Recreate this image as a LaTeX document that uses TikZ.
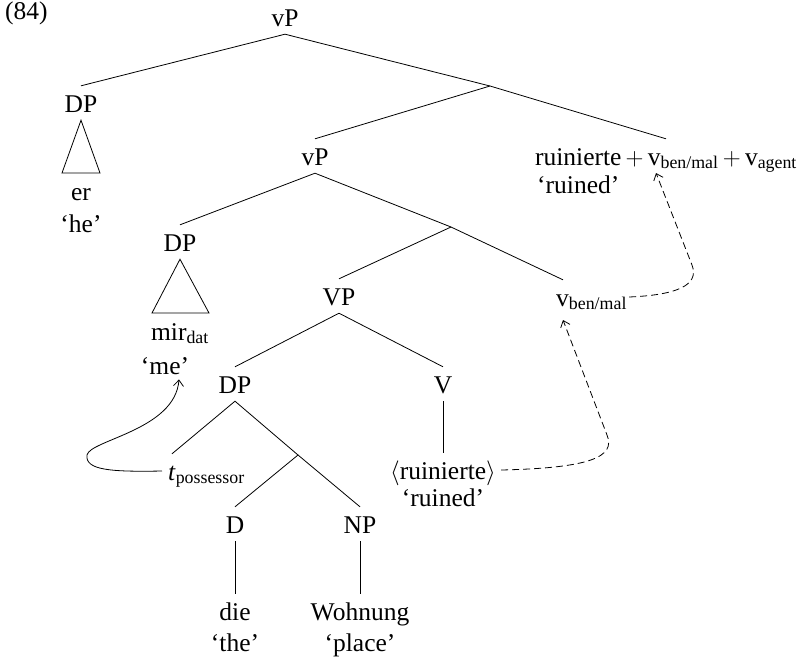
\documentclass[tikz,border=0pt]{standalone}
\usepackage{fontspec}
\setmainfont{Liberation Serif}
\usetikzlibrary{arrows.meta}
\tikzset{
  lbl/.style={anchor=base, inner sep=0pt, text height=26pt, text depth=8pt,
    font=\fontsize{25.5}{30}\selectfont},
  gl/.style={anchor=base, inner sep=0pt, font=\fontsize{25.5}{30}\selectfont},
  br/.style={line width=0.8pt},
  mv/.style={line width=0.8pt, -{Straight Barb[length=6pt,width=10pt]}},
  mvd/.style={mv, dash pattern=on 7pt off 4pt},
}
\begin{document}
\begin{tikzpicture}[x=1pt,y=-1pt]
\useasboundingbox (0,0) rectangle (800,662);
% labels
\node[gl, anchor=base west] (ex) at (5,19) {(84)};
\node[lbl] (vp1) at (285,26) {vP};
\node[lbl] (dp1) at (81,112) {DP};
\node[gl] (er) at (81,200) {er};
\node[gl] (he) at (81,232) {`he'};
\node[lbl] (vp2) at (315,165) {vP};
\node[lbl] (rp) at (666,165) {ruinierte\,$+$\,v\textsubscript{ben/mal}\,$+$\,v\textsubscript{agent}};
\node[gl, anchor=base west] (ru1) at (537,193) {`ruined'};
\node[lbl] (dp2) at (180,251) {DP};
\node[gl] (mir) at (180,340) {mir\textsubscript{dat}};
\node[gl] (me) at (165,374) {`me'};
\node[lbl] (vpV) at (339,305) {VP};
\node[lbl, anchor=base west] (vb) at (556,306) {v\textsubscript{ben/mal}};
\node[lbl] (dp3) at (235,393) {DP};
\node[lbl] (v) at (443,393) {V};
\node[lbl, anchor=base west] (t) at (168,480) {\textit{t}\textsubscript{possessor}};
\node[lbl] (rt) at (443,479) {$\langle$ruinierte$\rangle$};
\node[gl] (ru2) at (443,506) {`ruined'};
\node[lbl] (d) at (235,533) {D};
\node[lbl] (np) at (360,533) {NP};
\node[lbl] (die) at (235,620) {die};
\node[gl] (the) at (235,651) {`the'};
\node[lbl] (woh) at (360,620) {Wohnung};
\node[gl] (pl) at (360,651) {`place'};
% branch points
\coordinate (b1) at (490,86);
\coordinate (b2) at (451,227);
\coordinate (b3) at (298,455);
\coordinate (tr1l) at (62,173);
\coordinate (tr1r) at (100,173);
\coordinate (tr2l) at (152,313);
\coordinate (tr2r) at (209,313);
\coordinate (vbtarget) at (656,173);
% tree
\draw[br] (dp1.north) -- (vp1.south) -- (b1);
\draw[br] (vp2.north) -- (b1) -- (rp.north);
\draw[br] (dp2.north) -- (vp2.south) -- (b2);
\draw[br] (vpV.north) -- (b2) -- ([xshift=7pt]vb.north west);
\draw[br] (dp3.north) -- (vpV.south) -- (v.north);
\draw[br] ([xshift=4pt]t.north west) -- (dp3.south) -- (b3);
\draw[br] (d.north) -- (b3) -- (np.north);
\draw[br] (v.south) -- (rt.north);
\draw[br] (d.south) -- (die.north);
\draw[br] (np.south) -- (woh.north);
\draw[br] (dp1.south) -- (tr1l) -- (tr1r) -- cycle;
\draw[br] (dp2.south) -- (tr2l) -- (tr2r) -- cycle;
% movement arrows
\draw[mv] ([xshift=-6pt]t.west) .. controls (110,472) and (85,470) .. (87,455)
  .. controls (90,440) and (175,430) .. ([xshift=14pt,yshift=-5pt]me.south);
\draw[mvd] ([xshift=5pt]rt.east) .. controls (590,468) and (616,457) .. (607,435)
  -- ([xshift=7pt,yshift=-14pt]vb.base west);
\draw[mvd] ([xshift=2pt]vb.east) .. controls (675,295) and (700,286) .. (692,265)
  -- (vbtarget);
\end{tikzpicture}
\end{document}
